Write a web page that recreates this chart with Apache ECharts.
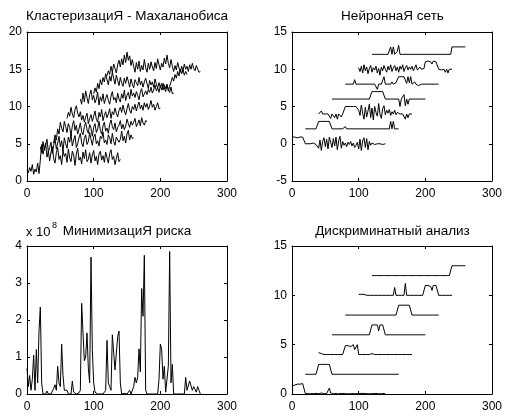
<!DOCTYPE html>
<html><head><meta charset="utf-8">
<script src="https://cdn.jsdelivr.net/npm/echarts@6/dist/echarts.min.js"></script>
<style>html,body{margin:0;padding:0;background:#fff}#c{width:505px;height:416px}</style>
</head><body><div id="c"></div>
<script>
// ---------- titles & axis tick settings ----------
const titles = ['КластеризациЯ - Махаланобиса', 'НейроннаЯ сеть', 'МинимизациЯ риска', 'Дискриминатный анализ'];
const scaleNote = 'x 10';
const scaleExp = '8';
const xRange = [0, 300, 100];            // min, max, interval
const yRangeTL = [0, 20, 5];
const yRangeTR = [-5, 15, 5];
const yRangeBL = [0, 4, 1];              // in units of 10^8
const yRangeBR = [0, 15, 5];

// each class series starts at these x values, sampled every 2 units
const seriesStarts = [0, 20, 40, 60, 80, 100, 120];
const sampleStep = 2;

// ---------- Кластеризация - Махаланобиса ----------
const tl0 = [1.5,1.1,1.8,1.3,2.2,0.9,1.6,1.2,2.4,1.0,
 2.8,4.9,3.6,4.4,5.1,3.2,4.0,2.7,3.9,4.6,
 3.0,2.4,3.8,4.5,2.9,3.4,2.2,4.1,3.3,3.7,
 2.5,4.3,3.1,2.6,4.0,3.5,2.1,3.6,4.4,2.8,
 3.2,2.3,3.9,3.0,4.2,2.6,2.9,3.8,2.4,3.5,
 4.1,2.7,3.3,2.2,3.6,4.0,2.8,3.4,2.5,3.9,
 3.1,2.4,3.7,4.2,2.9,3.3,2.2,3.0,3.8,2.6,
 2.9];
const tl1 = [4.6,3.8,5.3,4.1,4.9,5.6,3.9,4.5,5.2,3.7,
 4.8,5.7,4.3,5.1,6.0,4.6,5.4,4.0,5.8,5.0,
 4.4,5.9,5.2,6.3,4.7,5.5,6.1,4.5,5.0,5.8,
 6.4,5.1,4.6,5.7,6.2,4.9,5.3,6.5,5.6,4.8,
 5.9,6.3,5.0,5.4,4.7,6.0,5.7,6.6,5.1,5.5,
 4.9,6.2,5.8,5.0,6.4,5.3,4.8,5.9,6.1,5.2,
 5.6,6.7,5.4,6.0,5.1,6.3,6.8,5.5,6.2,5.7,
 5.8];
const tl2 = [5.1,6.2,5.5,7.0,6.3,7.9,7.1,6.6,8.0,7.3,
 6.5,7.7,7.2,6.1,7.4,8.1,6.8,7.5,6.3,7.0,
 7.8,6.6,6.2,7.3,7.9,6.9,6.4,7.6,7.1,6.0,
 7.2,7.7,6.5,7.0,8.0,6.8,6.3,7.4,7.9,6.7,
 7.1,6.4,7.6,8.2,7.3,6.9,7.8,6.6,7.2,7.5,
 8.1,7.0,7.6,6.9,7.4,8.3,7.7,7.2,8.0,7.5,
 7.9,8.4,7.3,7.7,8.2,7.4,8.5,7.8,7.5,8.1,
 8.0];
const tl3 = [8.4,9.2,8.7,9.9,9.0,8.5,9.6,10.1,9.1,8.6,
 9.3,8.2,8.8,7.9,8.6,9.1,7.7,8.4,8.9,8.0,
 8.7,9.4,8.3,7.9,9.2,8.6,9.6,8.1,8.8,9.3,
 8.5,9.0,9.7,8.4,9.3,8.9,9.8,9.1,8.6,9.5,
 9.9,9.2,10.2,9.4,8.9,9.7,10.4,9.5,9.1,10.0,
 9.6,10.3,9.4,10.1,10.6,9.7,10.2,9.5,10.5,9.9,
 10.4,9.6,10.1,10.8,9.9,10.3,9.5,10.0,10.5,9.7,
 9.8];
const tl4 = [11.0,10.3,11.8,10.6,12.1,11.2,10.4,11.6,12.2,10.9,
 11.5,10.5,11.0,11.9,10.2,11.3,10.7,11.7,10.4,11.1,
 11.6,10.8,10.3,11.4,12.0,10.9,11.2,10.5,11.8,11.0,
 10.6,11.7,11.1,12.2,10.8,11.5,11.9,11.0,12.3,11.4,
 11.8,11.2,12.0,11.5,10.9,11.9,12.4,11.3,11.7,12.1,
 11.6,12.3,11.9,12.6,11.8,12.2,12.9,12.1,12.5,11.9,
 12.8,12.2,13.1,12.5,12.0,12.9,12.3,11.9,12.6,11.7,
 11.8];
const tl5 = [11.7,12.5,11.9,13.1,12.4,13.6,12.9,13.9,13.3,14.4,
 13.6,12.9,14.1,13.4,14.6,13.8,13.0,14.2,13.5,12.8,
 13.9,13.2,12.7,13.8,13.1,14.0,13.4,12.6,13.7,13.0,
 12.5,13.6,13.2,12.8,13.9,12.9,13.4,12.6,13.3,13.8,
 13.1,12.4,13.5,12.9,13.3,12.6,13.7,13.0,12.5,13.2,
 12.6,13.1,12.2,12.9,12.4,13.0,12.1,12.7,13.3,13.9,
 13.4,14.3,13.8,14.7,14.1,15.0,14.4,14.9,14.2,14.7,
 14.3];
const tl6 = [14.1,14.8,14.3,15.4,14.6,15.7,15.1,14.5,15.6,16.2,
 15.3,16.4,15.6,16.9,15.9,17.3,16.2,16.8,15.5,16.3,
 15.4,14.6,15.9,15.0,16.1,14.7,15.5,14.9,16.3,15.2,
 14.6,15.8,15.0,16.0,15.3,14.8,15.9,15.1,16.4,15.6,
 14.9,15.8,15.3,16.5,15.7,16.9,15.8,15.2,16.3,15.4,
 14.7,15.5,14.9,15.9,15.2,14.6,15.4,14.8,15.7,15.0,
 15.4,14.7,15.6,15.0,15.8,15.1,14.8,15.5,15.0,14.6,
 14.7];

// ---------- Нейронная сеть ----------
const tr0 = [0.9,1.0,0.9,1.0,0.8,1.0,0.9,1.0,0.9,1.0,
 0.0,0,0,-0.1,0,0,0.1,0,-0.1,0,
 -0.6,0.5,-0.9,0.3,0.8,-0.4,0.6,-0.7,0.9,0.2,
 -0.5,0.7,-0.3,0.9,-0.8,0.4,1.0,-0.6,0.3,-0.2,
 0.1,-0.4,0.2,-0.1,0.3,-0.3,0.1,-0.5,-0.2,0.2,
 -0.7,0.6,-0.9,0.4,0.8,-0.5,0.7,-0.8,0.3,-0.2,
 0.1,0,-0.1,0,0,0.1,0,0,-0.1,0,
 0];
const tr1 = [2,2,2,2,2,2,2,2,2,2,
 3,3,3,3,3,3,3,3,3,3,
 2,2,2,2,2,2,2,2,2,2,
 2.3,2,2,2,2,2,2,2,2,2,
 2,2,2,2,2,2,2,2,2,2,
 2,2,2,2,2,2,2,2,2,2,
 2,2,2,2,3,2,3,2,2,2,
 2];
const tr2 = [4,4,4.4,4,4,4,4,4,4,3.4,
 4,4,3.5,4,3.3,4,4,3.6,4,4,
 5,5,5,5.1,5,5,5,5.1,5,4.8,
 4.5,3.8,5.2,4.1,3.3,4.9,3.6,4.4,5.3,3.5,
 4.8,3.2,5.0,4.2,3.7,5.4,4.0,3.4,4.7,5.1,
 3.9,4.5,4.1,4.6,3.8,4.3,4.0,4.5,3.9,4.2,
 4,4,4,4,4,3.3,4,3.5,4,4,
 4];
const tr3 = [6,6,6,6,6,6,6,6,6,6,
 6,6,6,6,6,6,6,6,6,6,
 6,6,6,6,6,6,6,6,6,6,
 7,7,7,7,7,7,7,7,7,7,
 6,6,6,6,6,6,6,6,6,6,
 6,5.0,6,6,6.6,5.1,6,5.3,6,6,
 6,6,6,6,6,6,6,6,6,6,
 6];
const tr4 = [8,8,8,8,8,8.2,8,8.6,8,8,
 8,8,8,8,8,8,8,8,8,8,
 8,8,8,8,7.3,8,8,8,8,9.0,
 8,8,8,8,8,8.3,8,8,8.2,8,
 9,9,9,8.9,9,9,8.1,9,8.2,9,
 8,8,8.3,8,8,7.8,8,8,8,8,
 8.2,8,8,8,8,8,8,8,8,8,
 8];
const tr5 = [10.2,9.7,10.4,9.5,10.6,9.8,10.3,9.4,10.1,10.5,
 9.6,10.2,9.9,10.4,9.5,10.1,9.2,10.3,9.8,10.5,
 10.0,9.6,10.4,9.9,10.6,9.7,10.2,10.5,9.8,10.3,
 9.6,10.4,10.0,10.6,9.7,10.2,10.5,9.9,10.3,10.0,
 10.4,9.8,10.2,10.6,9.9,10.1,10.3,10.0,10.2,10.1,
 11.0,10.8,11.1,10.9,11.0,10.7,11.1,10.9,11.0,10.8,
 10.0,10.1,9.9,10.0,10.0,9.6,10.0,9.5,10.0,10.0,
 10.0];
const tr6 = [12,12,12,12,12,12,12,12,12,12,
 12,12,12,12,13,12,13,12,12,12.4,
 13.2,12,12,12,12,12,12,12,12,12,
 12,12,12,12,12,12,12,12,12,12,
 12,12,12,12,12,12,12,12,12,12,
 12,12,12,12,12,12,12,12,12,12,
 13,13,13,13,13,13,13,13,13,13,
 13];

// ---------- Минимизация риска (x 10^8), x = 0..260 ----------
const bl = [0.7,0.2,0.5,0.1,0.4,1.05,0.1,1.2,0.3,1.7,
 2.35,0.3,0,0.05,0,0.08,0,0,0,0.02,
 0.15,0.25,0.1,0.75,0.3,0.2,1.35,0.5,0.1,0.05,
 0.1,0,0.02,0,0.35,0.05,0,0,0,0.03,
 0.1,2.45,1.65,0.9,1.0,1.65,0.7,0.3,3.7,1.2,
 0.3,0.05,0,0,0.02,0,0,0,0,0.1,
 1.45,0.3,0.2,0.1,1.6,1.55,0.65,0.7,1.55,1.7,
 0.3,0,0,0.02,0,0,0,0.1,0,0.05,
 0.2,0.45,0.3,0.45,1.22,0.6,2.85,2.1,3.75,0.1,
 0,0,0,0,0,0.02,0,0,0,0.4,
 1.35,1.2,0.4,0.75,0.05,0.1,0.75,3.85,0.3,0.8,
 0,0,0,0,0,0,0,0.02,0,0.45,
 0.1,0.15,0.35,0.3,0.1,0.2,0.25,0.05,0.2,0.1,
 0];

// ---------- Дискриминатный анализ ----------
const br0 = [0.8,0.85,0.9,0.9,1.0,1.05,1.0,1.1,1.05,1.1,
 0.05,0.05,0.02,0.05,0.03,0.05,0.04,0.02,0.06,0.05,
 0.03,0.05,0.1,0.04,0.02,0.15,0.05,0.2,0.6,0.1,
 0.05,0.03,0.06,0.04,0.05,0.02,0.05,0.06,0.03,0.04,
 0.05,0.03,0.05,0.02,0.06,0.04,0.05,0.03,0.05,0.04,
 0.02,0.05,0.04,0.06,0.03,0.05,0.04,0.02,0.05,0.03,
 0.04,0.05,0.03,0.06,0.04,0.02,0.05,0.03,0.04,0.05,
 0.03];
const br1 = [2,2,2,2,2,2,2,2,2,2,
 3,3,3,3,3,3,3,3,3,3,
 2,2,2,2,2,2,2,2,2,2,
 2,2,2,2,2,2,2,2,2,2,
 2,2,2,2,2,2,2,2,2,2,
 2,2,2,2,2,2,2,2,2,2,
 2,2,2,2,2,2,2,2,2,2,
 2];
const br2 = [4.2,4.3,4.1,4,4,4,4,4,4,4,
 4,4,4,4,4,4,4,4,4,4,
 4.9,5.0,4.9,5.0,4.8,5.0,5.0,4.5,4.7,5.0,
 4,4,4,4,4,4,4,4,4,4,
 4.1,4,4,4,4,4,4,4,4,4,
 4,4,4,4,4,4,4,4,4,4,
 4,4,4,4,4,4,4,4,4,4,
 4];
const br3 = [6,6,6,6,6,6,6,6,6,6,
 6,6,6,6,6,6,6,6,6,6,
 6,6,6,6,6,6,6,6,6,6,
 7,7,7,7,7,6.4,7,7,7,7,
 6,6,6,6,6,6,6,6,6,6,
 6,6,6,6,6,6,6,6,6,6,
 6,6,6,6,6,6,6,6,6,6,
 6];
const br4 = [8,8,8,8,8,8,8,8,8,8,
 8,8,8,8,8,8,8,8,8,8,
 8,8,8,8,8,8,8,8,8,8,
 8,8,8,8,8,8,8,8,8,8,
 9,9,9,9,9,9,9,9,9,9,
 8,8,8,8,8,8,8,8,8,8,
 8,8,8,8,8,8,8,8,8,8,
 8];
const br5 = [10.1,10.05,10.1,10,10.1,10,10,10,10,10,
 10,10,10,10,10,10,10,10,10,10,
 10,10,10,10,10,10,10,10.8,10,10,
 10,10,10,10,10,11.2,10,10,10,10,
 10,10,10,10,10,10,10,10,10,10,
 11,11,11,11,10.9,10.5,11,11,11,11,
 10,10,10,10,10,10,10,10,10,10,
 10];
const br6 = [12,12,12,12,12,12,12,12,12,12,
 12,12,12,12,12,12,12,12,12,12,
 12,12,12,12,12,12,12,12,12,12,
 12,12,12,12,12,12,12,12,12,12,
 12,12,12,12,12,12,12,12,12,12,
 12,12,12,12,12,12.2,12,12,12,12,
 13,13,13,13,13,13,13,13,13,13,
 13];

const tlSets = [tl0, tl1, tl2, tl3, tl4, tl5, tl6];
const trSets = [tr0, tr1, tr2, tr3, tr4, tr5, tr6];
const brSets = [br0, br1, br2, br3, br4, br5, br6];

// ---------- build ----------
const FONT = '"Liberation Sans", Arial, sans-serif';
function toPairs(values, start) { return values.map((v, i) => [start + i * sampleStep, v]); }

const panels = [
  { grid: { left: 27, top: 32, width: 200, height: 149 }, y: yRangeTL, sets: tlSets.map((s, k) => toPairs(s, seriesStarts[k])), title: titles[0], ty: 16 },
  { grid: { left: 292, top: 32, width: 201, height: 149 }, y: yRangeTR, sets: trSets.map((s, k) => toPairs(s, seriesStarts[k])), title: titles[1], ty: 16 },
  { grid: { left: 27, top: 246, width: 200, height: 148 }, y: yRangeBL, sets: [toPairs(bl, 0)], title: titles[2], ty: 231 },
  { grid: { left: 292, top: 246, width: 201, height: 148 }, y: yRangeBR, sets: brSets.map((s, k) => toPairs(s, seriesStarts[k])), title: titles[3], ty: 231 }
];

const grids = [], xAxes = [], yAxes = [], series = [], graphics = [];
const axLine = { show: true, onZero: false, lineStyle: { color: '#000', width: 1 } };
const tick = { show: true, inside: true, length: 3, lineStyle: { color: '#000', width: 1 } };
const lab = { color: '#000', fontSize: 12, fontFamily: FONT };

panels.forEach((p, i) => {
  grids.push(Object.assign({ containLabel: false }, p.grid));
  xAxes.push({ type: 'value', gridIndex: i, position: 'bottom', min: xRange[0], max: xRange[1], interval: xRange[2],
    axisLine: axLine, axisTick: tick, splitLine: { show: false }, axisLabel: Object.assign({ margin: 7 }, lab) });
  xAxes.push({ type: 'value', gridIndex: i, position: 'top', min: xRange[0], max: xRange[1], interval: xRange[2],
    axisLine: axLine, axisTick: tick, splitLine: { show: false }, axisLabel: { show: false } });
  yAxes.push({ type: 'value', gridIndex: i, position: 'left', min: p.y[0], max: p.y[1], interval: p.y[2],
    axisLine: axLine, axisTick: tick, splitLine: { show: false }, axisLabel: Object.assign({ margin: 5 }, lab) });
  yAxes.push({ type: 'value', gridIndex: i, position: 'right', min: p.y[0], max: p.y[1], interval: p.y[2],
    axisLine: axLine, axisTick: tick, splitLine: { show: false }, axisLabel: { show: false } });
  p.sets.forEach(d => {
    series.push({ type: 'line', xAxisIndex: 2 * i, yAxisIndex: 2 * i, data: d, symbol: 'none', silent: true,
      lineStyle: { color: '#000', width: 1 }, z: 3 });
  });
  graphics.push({ type: 'text', x: p.grid.left + p.grid.width / 2, y: p.ty,
    style: { text: p.title, fill: '#000', font: '13.5px ' + FONT, textAlign: 'center', textVerticalAlign: 'middle', verticalAlign: 'middle' } });
});
graphics.push({ type: 'text', x: 26, y: 232, style: { text: scaleNote, fill: '#000', font: '13px ' + FONT, textAlign: 'left', textVerticalAlign: 'middle', verticalAlign: 'middle' } });
graphics.push({ type: 'text', x: 52, y: 226, style: { text: scaleExp, fill: '#000', font: '9px ' + FONT, textAlign: 'left', textVerticalAlign: 'middle', verticalAlign: 'middle' } });

const chart = echarts.init(document.getElementById('c'), null, { renderer: 'canvas' });
chart.setOption({ animation: false, backgroundColor: '#fff', grid: grids, xAxis: xAxes, yAxis: yAxes, series: series, graphic: graphics });
</script></body></html>
